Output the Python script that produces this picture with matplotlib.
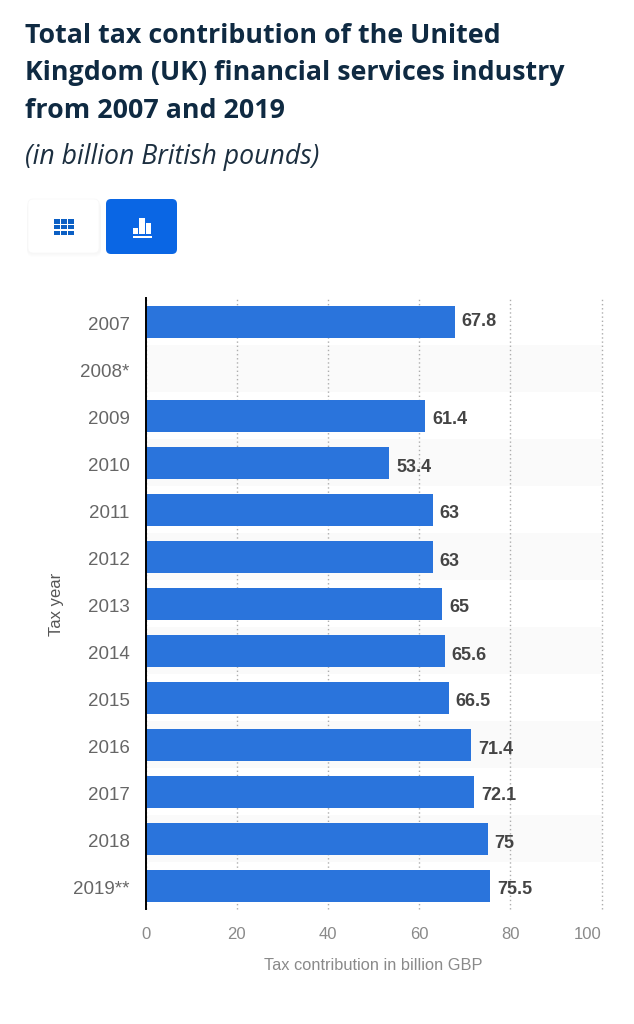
import matplotlib.pyplot as plt
from matplotlib.patches import FancyBboxPatch, Rectangle
from matplotlib.transforms import ScaledTranslation

W, H = 634, 1024

years = ["2007", "2008*", "2009", "2010", "2011", "2012", "2013", "2014",
         "2015", "2016", "2017", "2018", "2019**"]
values = [67.8, None, 61.4, 53.4, 63, 63, 65, 65.6, 66.5, 71.4, 72.1, 75, 75.5]
value_labels = ["67.8", "", "61.4", "53.4", "63", "63", "65", "65.6", "66.5", "71.4", "72.1", "75", "75.5"]
xticks = [0, 20, 40, 60, 80, 100]

plt.rcParams['font.family'] = ['Liberation Sans', 'DejaVu Sans']

fig = plt.figure(figsize=(W / 100, H / 100), dpi=100)

# overlay in pixel coords for header and buttons
bg = fig.add_axes([0, 0, 1, 1])
bg.set_xlim(0, W)
bg.set_ylim(H, 0)
bg.axis('off')

title = ["Total tax contribution of the United",
         "Kingdom (UK) financial services industry",
         "from 2007 and 2019"]
for i, line in enumerate(title):
    bg.text(25, 36 + i * 37.5, line, family='Open Sans', weight='bold', fontsize=19.3,
            color='#0f2a42', va='center', ha='left')
bg.text(25, 157, "(in billion British pounds)", family='Open Sans', style='italic',
        fontsize=19.15, color='#1c2f40', va='center', ha='left')

# toggle buttons
for k in range(4):
    bg.add_patch(FancyBboxPatch((27, 200 + k), 74, 54, boxstyle="round,pad=0,rounding_size=6",
                                fc='#000000', ec='none', alpha=0.008))
bg.add_patch(FancyBboxPatch((28, 199), 71, 54, boxstyle="round,pad=0,rounding_size=5",
                            fc='white', ec='#f8f8f8', lw=0.6))
bg.add_patch(FancyBboxPatch((106, 199), 71, 55, boxstyle="round,pad=0,rounding_size=5",
                            fc='#0a66e4', ec='none'))
for r in range(3):
    for c in range(3):
        bg.add_patch(Rectangle((54 + c * 7, 219 + r * 5.8), 5.8, 4.6, fc='#0b5fc4', ec='none'))
for x0, y0, w, h in [(132.7, 227.7, 5.3, 6.6), (139.3, 217.7, 5.7, 16.6), (145.7, 222.7, 5.3, 11.6),
                     (132.5, 236, 19, 1.7)]:
    bg.add_patch(Rectangle((x0, y0), w, h, fc='white', ec='none'))

# chart, 47 px per row
ax = fig.add_axes([145.5 / W, 1 - 909 / H, 456 / W, 611 / H])
ax.patch.set_alpha(0)
ax.set_xlim(0, 100)
ax.set_ylim(12.5, -0.5)

for i in range(1, len(years), 2):
    ax.axhspan(i - 0.5, i + 0.5, color='#fafafa', lw=0, zorder=0)

ax.set_axisbelow(True)
ax.grid(axis='x', color='#adadad', linestyle=(0, (1, 2)), linewidth=1.0, clip_on=False)

pos = [i for i, v in enumerate(values) if v is not None]
vals = [v for v in values if v is not None]
ax.barh(pos, vals, height=32 / 47, color='#2a74dc', zorder=2)

for p, v, s in zip(pos, vals, [l for l in value_labels if l]):
    dy = 0 if p == 0 else -4.5
    ax.annotate(s, (v, p), xytext=(7, dy), textcoords='offset pixels',
                fontsize=13, weight='bold', color='#444444', va='center', ha='left', zorder=3)

for side in ['top', 'right', 'bottom']:
    ax.spines[side].set_visible(False)
ax.spines['left'].set_color('#000000')
ax.spines['left'].set_linewidth(1.4)

ax.set_yticks(range(len(years)))
ax.set_yticklabels(years, fontsize=13.5, color='#666666')
ax.set_xticks(xticks)
ax.set_xticklabels([str(x) for x in xticks], fontsize=12, color='#8a8a8a')
ax.tick_params(axis='y', length=0, pad=11.5)
ax.tick_params(axis='x', length=0, pad=13)
ax.get_xticklabels()[-1].set_ha('right')

shift = ScaledTranslation(0, -2 / 100, fig.dpi_scale_trans)
for lab in ax.get_yticklabels():
    lab.set_transform(lab.get_transform() + shift)

ax.set_xlabel("Tax contribution in billion GBP", fontsize=11.8, color='#8a8a8a')
ax.xaxis.set_label_coords((373.5 - 145.5) / 456, -(965.5 - 909) / 611)
ax.xaxis.label.set_va('center')
ax.set_ylabel("Tax year", fontsize=12, color='#555555')
ax.yaxis.set_label_coords((57 - 145.5) / 456, 1 - (604 - 298) / 611)
ax.yaxis.label.set_va('center')

fig.savefig("out.png", dpi=100)
